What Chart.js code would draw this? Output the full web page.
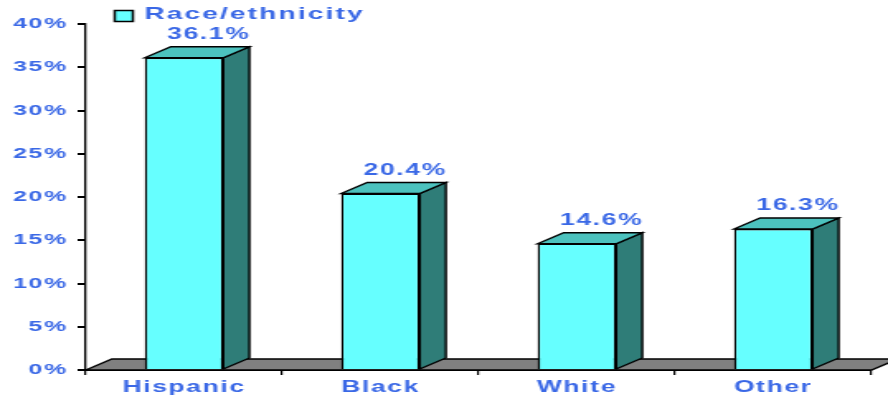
<!DOCTYPE html>
<html>
<head>
<meta charset="utf-8">
<title>Race/ethnicity</title>
<script src="https://cdn.jsdelivr.net/npm/chart.js@4"></script>
<style>
    html, body { margin: 0; padding: 0; background: #fff; overflow: hidden; }
    /* the original picture is stretched sideways, so the canvas is too */
    #chart { transform: scaleX(1.6506); transform-origin: 0 0; }
</style>
</head>
<body>
<canvas id="chart" width="538" height="404"></canvas>
<script>
    // Data
    var categories = ['Hispanic', 'Black', 'White', 'Other'];
    var shares = [36.1, 20.4, 14.6, 16.3];
    var seriesLabel = 'Race/ethnicity';

    var BLUE = '#3a68e6';
    var FRONT = '#66ffff';
    var SIDE = '#2f7d78';
    var TOP = '#4cc2be';
    var DX = 15.8, DY = 11;

    function poly(ctx, pts, fill) {
        ctx.beginPath();
        ctx.moveTo(pts[0][0], pts[0][1]);
        for (var i = 1; i < pts.length; i++) {
            ctx.lineTo(pts[i][0], pts[i][1]);
        }
        ctx.closePath();
        ctx.fillStyle = fill;
        ctx.fill();
        ctx.strokeStyle = '#000';
        ctx.lineWidth = 1.4;
        ctx.lineJoin = 'miter';
        ctx.stroke();
    }

    // floor, 3D faces, value labels and the legend
    var bars3d = {
        id: 'bars3d',
        beforeUpdate: function(chart) { chart.ctx.letterSpacing = '1px'; },
        beforeDraw: function(chart) { chart.ctx.letterSpacing = '1px'; },
        beforeDatasetsDraw: function(chart) {
            var a = chart.chartArea, ctx = chart.ctx;
            ctx.save();
            poly(ctx, [[a.left, a.bottom], [a.left + DX, a.bottom - DY],
                       [a.right + DX, a.bottom - DY], [a.right, a.bottom]], '#808080');
            ctx.restore();
        },
        afterDatasetsDraw: function(chart) {
            var ctx = chart.ctx;
            var meta = chart.getDatasetMeta(0);
            ctx.save();
            meta.data.forEach(function(bar, i) {
                var w = bar.width, l = bar.x - w / 2, r = bar.x + w / 2;
                poly(ctx, [[r, bar.y], [r + DX, bar.y - DY], [r + DX, bar.base - DY], [r, bar.base]], SIDE);
                poly(ctx, [[l, bar.y], [l + DX, bar.y - DY], [r + DX, bar.y - DY], [r, bar.y]], TOP);

                ctx.fillStyle = BLUE;
                ctx.letterSpacing = '1px';
                ctx.font = 'bold 16px "Liberation Sans", Arial, sans-serif';
                ctx.textAlign = 'center';
                ctx.textBaseline = 'bottom';
                ctx.fillText(shares[i].toFixed(1) + '%', bar.x + 15, bar.y - DY - 4);
            });

            // legend
            ctx.fillStyle = FRONT;
            ctx.fillRect(69.5, 10.5, 11, 11);
            ctx.strokeStyle = '#000';
            ctx.lineWidth = 1.5;
            ctx.strokeRect(69.5, 10.5, 11, 11);
            ctx.fillStyle = BLUE;
            ctx.letterSpacing = '1.3px';
            ctx.font = 'bold 17px "Liberation Sans", Arial, sans-serif';
            ctx.textAlign = 'left';
            ctx.textBaseline = 'middle';
            ctx.fillText(seriesLabel, 87.5, 14.5);
            ctx.restore();
        }
    };

    new Chart(document.getElementById('chart'), {
        type: 'bar',
        data: {
            labels: categories,
            datasets: [{
                label: seriesLabel,
                data: shares,
                backgroundColor: FRONT,
                borderColor: '#000',
                borderWidth: 1.4,
                categoryPercentage: 1,
                barPercentage: 0.4
            }]
        },
        options: {
            responsive: false,
            animation: false,
            devicePixelRatio: 1,
            layout: { padding: { left: 0, right: 10, top: 24, bottom: 0 } },
            plugins: {
                legend: { display: false },
                tooltip: { enabled: false }
            },
            scales: {
                x: {
                    grid: { drawOnChartArea: false, drawTicks: true, tickLength: 5, color: '#000', lineWidth: 1.2 },
                    border: { display: true, color: '#000', width: 2 },
                    ticks: {
                        color: BLUE,
                        padding: 3,
                        font: { family: '"Liberation Sans", Arial, sans-serif', size: 16, weight: 'bold' }
                    },
                    afterFit: function(scale) { scale.height = 34; }
                },
                y: {
                    min: 0,
                    max: 40,
                    grid: { drawOnChartArea: false, drawTicks: true, tickLength: 5, color: '#000', lineWidth: 2 },
                    border: { display: true, color: '#000', width: 1.3 },
                    ticks: {
                        stepSize: 5,
                        color: BLUE,
                        padding: 6,
                        font: { family: '"Liberation Sans", Arial, sans-serif', size: 15, weight: 'bold' },
                        callback: function(v) { return v + '%'; }
                    },
                    afterFit: function(scale) { scale.width = 52; }
                }
            }
        },
        plugins: [bars3d]
    });
</script>
</body>
</html>
